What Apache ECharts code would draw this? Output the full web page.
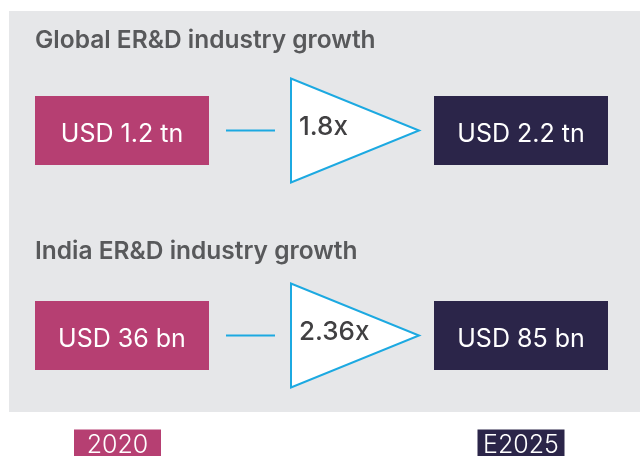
<!DOCTYPE html>
<html>
<head>
<meta charset="utf-8">
<script src="https://cdn.jsdelivr.net/npm/echarts@6/dist/echarts.min.js"></script>
<style>
  html, body { margin: 0; padding: 0; background: #fff; }
  #chart { width: 640px; height: 456px; }
</style>
</head>
<body>
<div id="chart"></div>
<script>
const years = ['2020', 'E2025']
const rowTitles = ['Global ER&D industry growth', 'India ER&D industry growth']
const startValues = [1.2, 36]
const endValues = [2.2, 85]
const units = ['tn', 'bn']
const multipliers = [1.8, 2.36]

const MAGENTA = '#b63f72'
const NAVY = '#2b2549'
const BLUE = '#1ca9e1'
const FONT = 'Inter'

const rowData = rowTitles.map((_, i) => [0, i])

function renderRow(params, api) {
  const i = api.value(1)
  const a = api.coord([0, i])
  const b = api.coord([1, i])
  const cx1 = a[0], cx2 = b[0], cy = a[1]
  const bw = 174, bh = 69
  const titleGap = i === 0 ? 90 : 84
  return {
    type: 'group',
    children: [
      {
        type: 'text',
        style: {
          x: cx1 - bw / 2, y: cy - titleGap,
          text: rowTitles[i],
          fill: '#58595b', font: '600 24.5px ' + FONT,
          textAlign: 'left', textVerticalAlign: 'middle'
        }
      },
      {
        type: 'rect',
        shape: { x: cx1 - bw / 2, y: cy - bh / 2, width: bw, height: bh },
        style: { fill: MAGENTA }
      },
      {
        type: 'text',
        style: {
          x: cx1, y: cy + 4,
          text: 'USD ' + startValues[i] + ' ' + units[i],
          fill: '#fff', font: '400 25px ' + FONT,
          textAlign: 'center', textVerticalAlign: 'middle'
        }
      },
      {
        type: 'line',
        shape: { x1: cx1 + 104, y1: cy, x2: cx1 + 153, y2: cy },
        style: { stroke: BLUE, lineWidth: 2 }
      },
      {
        type: 'polygon',
        shape: { points: [[cx1 + 169, cy - 52], [cx1 + 169, cy + 52], [cx1 + 297, cy]] },
        style: { fill: '#fff', stroke: BLUE, lineWidth: 2 }
      },
      {
        type: 'text',
        style: {
          x: cx1 + 177, y: cy - 3,
          text: multipliers[i] + 'x',
          fill: '#414042', font: '500 26px ' + FONT,
          textAlign: 'left', textVerticalAlign: 'middle'
        }
      },
      {
        type: 'rect',
        shape: { x: cx2 - bw / 2, y: cy - bh / 2, width: bw, height: bh },
        style: { fill: NAVY }
      },
      {
        type: 'text',
        style: {
          x: cx2, y: cy + 4,
          text: 'USD ' + endValues[i] + ' ' + units[i],
          fill: '#fff', font: '400 25px ' + FONT,
          textAlign: 'center', textVerticalAlign: 'middle'
        }
      }
    ]
  }
}

const chart = echarts.init(document.getElementById('chart'))
chart.setOption({
  animation: false,
  graphic: [{
    type: 'rect',
    z: -10,
    silent: true,
    shape: { x: 9, y: 11, width: 631, height: 401 },
    style: { fill: '#e6e7e9' }
  }],
  grid: { left: 122, right: 119, top: 130.5, bottom: 120.5, outerBoundsMode: 'none', containLabel: false },
  xAxis: {
    type: 'category',
    data: years,
    boundaryGap: false,
    axisLine: { show: false },
    axisTick: { show: false },
    splitLine: { show: false },
    axisLabel: {
      margin: 94,
      formatter: (v, idx) => idx === 0 ? '{a|' + v + '}{gap|}' : '{b|' + v + '}',
      rich: {
        a: {
          backgroundColor: MAGENTA, color: '#fff', width: 87, height: 32, lineHeight: 32,
          align: 'center', fontSize: 25, fontWeight: 300, fontFamily: FONT
        },
        b: {
          backgroundColor: NAVY, color: '#fff', width: 87, height: 32, lineHeight: 32,
          align: 'center', fontSize: 25, fontWeight: 300, fontFamily: FONT
        },
        gap: { width: 9, height: 32 }
      }
    }
  },
  yAxis: {
    type: 'category',
    data: rowTitles,
    inverse: true,
    boundaryGap: false,
    axisLine: { show: false },
    axisTick: { show: false },
    axisLabel: { show: false },
    splitLine: { show: false }
  },
  series: [{
    type: 'custom',
    renderItem: renderRow,
    data: rowData,
    encode: { x: 0, y: 1 },
    silent: true
  }]
})
</script>
</body>
</html>
